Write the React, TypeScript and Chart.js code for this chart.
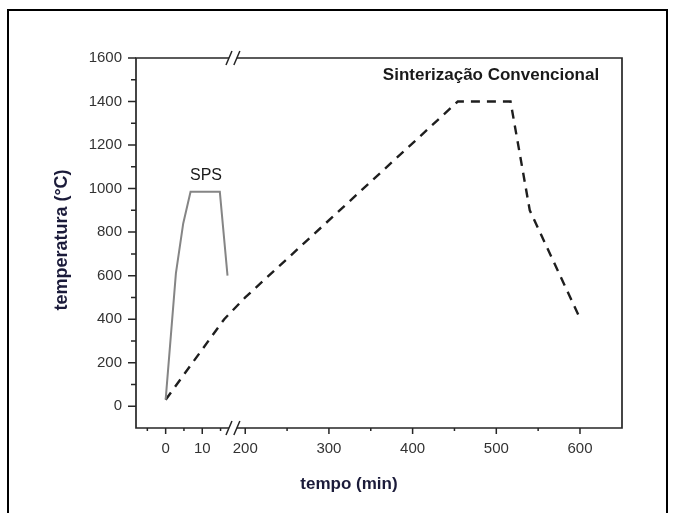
import React, { useEffect, useRef } from "react";
import { Chart, registerables } from "chart.js";

Chart.register(...registerables);

// ---- data (time in minutes, temperature in °C) ----
const spsTime = [0, 1.4, 2.8, 4.8, 6.8, 14.8, 16.9];
const spsTemp = [30, 320, 610, 840, 985, 985, 600];

const convTime = [0, 16, 200, 454, 517, 540, 598];
const convTemp = [30, 400, 500, 1400, 1400, 900, 420];

const xMajorTicks = [0, 10, 200, 300, 400, 500, 600];
const xMinorTicks = [-5, 5, 15, 250, 350, 450, 550];
const yMajorTicks = [0, 200, 400, 600, 800, 1000, 1200, 1400, 1600];
const yMinorTicks = [100, 300, 500, 700, 900, 1100, 1300, 1500];

const spsLabel = "SPS";
const convLabel = "Sinterização Convencional";
const xTitle = "tempo (min)";
const yTitle = "temperatura (°C)";

// ---- broken x-axis mapping ----
const LEFT_FACTOR = 4.374; // left segment stretch
const RIGHT_ORIGIN = 95.1; // axis unit where t = 200 sits
const BREAK_LEFT = 17.3;
const BREAK_RIGHT = 190;
const X_START = -8.1;
const X_END = 650.2;
const toU = (t: number) => (t <= 100 ? t * LEFT_FACTOR : RIGHT_ORIGIN + (t - 200));

const FONT = "'Liberation Sans', Arial, sans-serif";

const axesPlugin = {
  id: "brokenAxes",
  afterDraw(chart: any) {
    const { ctx, chartArea } = chart;
    const xs = chart.scales.x;
    const ys = chart.scales.y;
    const { left, right, top, bottom } = chartArea;
    const bl = xs.getPixelForValue(toU(BREAK_LEFT));
    const br = xs.getPixelForValue(toU(BREAK_RIGHT));
    ctx.save();
    ctx.strokeStyle = "#262626";
    ctx.lineWidth = 1.7;
    ctx.lineCap = "butt";
    ctx.beginPath();
    ctx.moveTo(left, top); ctx.lineTo(bl, top);
    ctx.moveTo(br, top); ctx.lineTo(right, top);
    ctx.moveTo(left - 0.85, bottom); ctx.lineTo(bl, bottom);
    ctx.moveTo(br, bottom); ctx.lineTo(right + 0.85, bottom);
    ctx.moveTo(left, top - 0.85); ctx.lineTo(left, bottom);
    ctx.moveTo(right, top - 0.85); ctx.lineTo(right, bottom);
    ctx.stroke();

    // break marks
    ctx.lineWidth = 1.5;
    ctx.beginPath();
    for (const y of [top, bottom]) {
      for (const x of [bl, br]) {
        ctx.moveTo(x - 3, y + 7);
        ctx.lineTo(x + 3, y - 7);
      }
    }
    ctx.stroke();

    // ticks
    ctx.lineWidth = 1.5;
    ctx.beginPath();
    for (const t of xMajorTicks) {
      const x = xs.getPixelForValue(toU(t));
      ctx.moveTo(x, bottom); ctx.lineTo(x, bottom + 6);
    }
    for (const t of xMinorTicks) {
      const x = xs.getPixelForValue(toU(t));
      ctx.moveTo(x, bottom); ctx.lineTo(x, bottom + 3);
    }
    for (const v of yMajorTicks) {
      const y = ys.getPixelForValue(v);
      ctx.moveTo(left, y); ctx.lineTo(left - 8, y);
    }
    for (const v of yMinorTicks) {
      const y = ys.getPixelForValue(v);
      ctx.moveTo(left, y); ctx.lineTo(left - 5, y);
    }
    ctx.stroke();

    // annotations
    ctx.fillStyle = "#1a1a1a";
    ctx.textAlign = "center";
    ctx.textBaseline = "middle";
    ctx.font = `16px ${FONT}`;
    ctx.fillText(spsLabel, 206, 176);
    ctx.font = `bold 17px ${FONT}`;
    ctx.fillText(convLabel, 491, 75);

    // axis titles
    ctx.fillStyle = "#1b1b3a";
    ctx.font = `bold 17px ${FONT}`;
    ctx.fillText(xTitle, 349, 484);
    ctx.save();
    ctx.translate(62, 240);
    ctx.rotate(-Math.PI / 2);
    ctx.font = `bold 18px ${FONT}`;
    ctx.fillText(yTitle, 0, 0);
    ctx.restore();
    ctx.restore();
  },
};

export default function App() {
  const ref = useRef<HTMLCanvasElement | null>(null);
  useEffect(() => {
    if (!ref.current) return;
    const chart = new Chart(ref.current, {
      type: "line",
      data: {
        datasets: [
          {
            label: spsLabel,
            data: spsTime.map((t, i) => ({ x: toU(t), y: spsTemp[i] })),
            borderColor: "#858585",
            borderWidth: 2,
            pointRadius: 0,
            fill: false,
            tension: 0,
          },
          {
            label: convLabel,
            data: convTime.map((t, i) => ({ x: toU(t), y: convTemp[i] })),
            borderColor: "#1e1e1e",
            borderWidth: 2.4,
            borderDash: [9, 7],
            pointRadius: 0,
            fill: false,
            tension: 0,
          },
        ],
      },
      options: {
        animation: false,
        responsive: false,
        maintainAspectRatio: false,
        layout: { padding: { top: 58, right: 52, left: 0, bottom: 0 } },
        plugins: { legend: { display: false }, tooltip: { enabled: false } },
        scales: {
          x: {
            type: "linear",
            min: toU(X_START),
            max: toU(X_END),
            afterBuildTicks: (s: any) => {
              s.ticks = xMajorTicks.map((t) => ({ value: toU(t) }));
            },
            afterFit: (s: any) => {
              s.height = 85;
            },
            grid: { display: false, drawTicks: false },
            border: { display: false },
            ticks: {
              autoSkip: false,
              maxRotation: 0,
              padding: 12,
              color: "#333",
              font: { family: FONT, size: 15 },
              callback: (_v: any, i: number) => String(xMajorTicks[i]),
            },
          },
          y: {
            type: "linear",
            min: -100,
            max: 1600,
            afterBuildTicks: (s: any) => {
              s.ticks = yMajorTicks.map((v) => ({ value: v }));
            },
            afterFit: (s: any) => {
              s.width = 136;
            },
            grid: { display: false, drawTicks: false },
            border: { display: false },
            ticks: {
              autoSkip: false,
              padding: 14,
              color: "#333",
              font: { family: FONT, size: 15 },
              callback: (v: any) => String(v),
            },
          },
        },
      },
      plugins: [axesPlugin],
    } as any);
    return () => chart.destroy();
  }, []);

  return (
    <div style={{ position: "fixed", left: 0, top: 0, width: 674, height: 513, background: "#fff" }}>
      <canvas ref={ref} width={674} height={513} style={{ display: "block", width: 674, height: 513 }} />
      <div
        style={{
          position: "fixed",
          left: 7,
          top: 9,
          width: 661,
          height: 540,
          border: "2px solid #000",
          boxSizing: "border-box",
          pointerEvents: "none",
        }}
      />
    </div>
  );
}
